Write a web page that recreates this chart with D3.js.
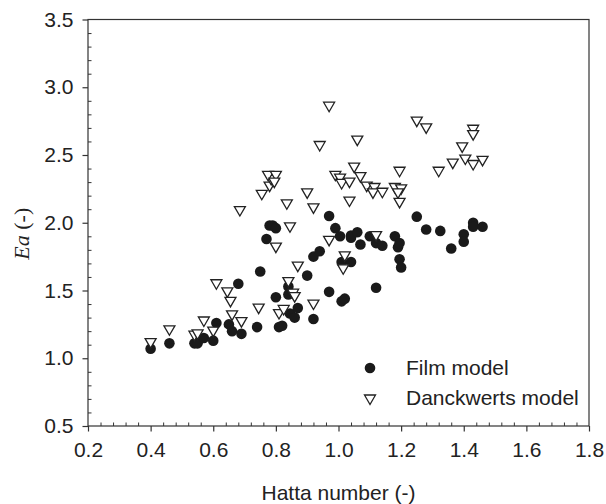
<!DOCTYPE html>
<html>
<head>
<meta charset="utf-8">
<script src="https://cdn.jsdelivr.net/npm/d3@7"></script>
<style>
  html, body { margin: 0; padding: 0; background: #fff; }
  svg { display: block; }
  text { font-family: "Liberation Sans", Arial, sans-serif; fill: #222; }
</style>
</head>
<body>
<svg id="chart" width="606" height="504"></svg>
<script>
// ---- data ----
const filmX = [0.40,0.46,0.54,0.55,0.57,0.60,0.61,0.65,0.66,0.69,0.68,0.74,0.75,0.77,0.78,0.79,0.80,0.80,0.81,0.82,
  0.84,0.84,0.845,0.86,0.87,0.90,0.92,0.92,0.94,0.97,0.97,0.99,1.005,1.01,1.02,1.01,1.04,1.04,1.04,1.06,
  1.07,1.10,1.12,1.12,1.14,1.18,1.19,1.195,1.195,1.20,1.25,1.28,1.325,1.36,1.40,1.40,1.43,1.43,1.46];
const filmY = [1.07,1.11,1.11,1.11,1.15,1.13,1.26,1.25,1.20,1.18,1.55,1.23,1.64,1.88,1.98,1.98,1.96,1.45,1.23,1.24,
  1.53,1.47,1.33,1.30,1.37,1.61,1.29,1.75,1.79,1.49,2.05,1.96,1.90,1.42,1.44,1.71,1.71,1.89,1.905,1.93,
  1.84,1.90,1.85,1.52,1.83,1.90,1.82,1.85,1.73,1.67,2.045,1.95,1.94,1.81,1.915,1.86,2.00,1.97,1.97];

const danckX = [0.40,0.46,0.54,0.55,0.57,0.60,0.61,0.645,0.655,0.66,0.69,0.685,0.745,0.755,0.78,0.785,0.775,0.80,0.795,0.80,
  0.81,0.825,0.84,0.855,0.86,0.87,0.835,0.845,0.90,0.92,0.92,0.94,0.97,0.97,0.99,1.005,1.01,1.035,1.035,1.05,
  1.06,1.07,1.02,1.015,1.09,1.115,1.11,1.14,1.12,1.18,1.20,1.19,1.195,1.195,1.25,1.28,1.32,1.365,1.395,1.405,
  1.43,1.43,1.43,1.46];
const danckY = [1.115,1.21,1.17,1.18,1.275,1.20,1.55,1.49,1.42,1.32,1.27,2.09,1.37,2.21,2.27,2.32,2.35,2.35,2.30,1.82,
  1.33,1.36,1.565,1.48,1.455,1.68,2.14,1.97,2.22,2.11,1.40,2.57,2.86,1.87,2.35,2.33,2.29,2.30,2.16,2.41,
  2.61,2.34,1.755,1.66,2.27,2.26,2.22,2.225,1.905,2.26,2.25,2.22,2.15,2.38,2.75,2.70,2.38,2.44,2.56,2.47,
  2.43,2.69,2.65,2.46];

const xTicks = [0.2,0.4,0.6,0.8,1.0,1.2,1.4,1.6,1.8];
const yTicks = [0.5,1.0,1.5,2.0,2.5,3.0,3.5];
const xLabel = "Hatta number (-)";
const yLabelItalic = "Ea";
const yLabelRest = " (-)";
const legendNames = ["Film model", "Danckwerts model"];

// ---- layout ----
const svg = d3.select("#chart");
const L = 88, R = 589, T = 19.5, B = 426;
const x = d3.scaleLinear().domain([0.2, 1.8]).range([L, R]);
const y = d3.scaleLinear().domain([0.5, 3.5]).range([B, T]);
const axisColor = "#333";
const fontSize = 21;

// frame
svg.append("rect").attr("x", L).attr("y", T).attr("width", R - L).attr("height", B - T)
  .attr("fill", "none").attr("stroke", axisColor).attr("stroke-width", 1.2);

// minor ticks (inward)
const xMinor = d3.range(0.2, 1.8001, 0.04).filter(v => Math.abs(v * 5 - Math.round(v * 5)) > 1e-6);
const yMinor = d3.range(0.5, 3.5001, 0.1).filter(v => Math.abs(v * 2 - Math.round(v * 2)) > 1e-6);

const gxm = svg.append("g").attr("transform", `translate(0,${B})`)
  .call(d3.axisBottom(x).tickValues(xMinor).tickSizeInner(-3.5).tickSizeOuter(0).tickFormat(""));
const gym = svg.append("g").attr("transform", `translate(${L},0)`)
  .call(d3.axisLeft(y).tickValues(yMinor).tickSizeInner(-3.5).tickSizeOuter(0).tickFormat(""));
[gxm, gym].forEach(g => { g.select(".domain").remove(); g.selectAll("line").attr("stroke", axisColor).attr("stroke-width", 1); });

// major ticks (outward) with labels
const gx = svg.append("g").attr("transform", `translate(0,${B})`)
  .call(d3.axisBottom(x).tickValues(xTicks).tickSizeInner(5.5).tickSizeOuter(0).tickPadding(11).tickFormat(d3.format(".1f")));
const gy = svg.append("g").attr("transform", `translate(${L},0)`)
  .call(d3.axisLeft(y).tickValues(yTicks).tickSizeInner(5.5).tickSizeOuter(0).tickPadding(9).tickFormat(d3.format(".1f")));
[gx, gy].forEach(g => {
  g.select(".domain").remove();
  g.selectAll("line").attr("stroke", axisColor).attr("stroke-width", 1.2);
  g.selectAll("text").attr("font-size", fontSize).attr("font-family", "Liberation Sans, Arial, sans-serif").attr("fill", "#222");
});

// axis titles
svg.append("text").attr("x", (L + R) / 2).attr("y", 500).attr("text-anchor", "middle")
  .attr("font-size", fontSize).text(xLabel);
const yt = svg.append("text").attr("transform", `translate(29,${(T + B) / 2 + 11}) rotate(-90)`)
  .attr("text-anchor", "middle").attr("font-size", 22)
  .style("font-family", "'Liberation Serif', 'Times New Roman', serif");
yt.append("tspan").attr("font-style", "italic").text(yLabelItalic);
yt.append("tspan").text(yLabelRest);

// marks
const triPath = "M-5.5,-4 L5.5,-4 L0,5.5 Z";
svg.append("g").selectAll("circle").data(d3.range(filmX.length)).join("circle")
  .attr("cx", i => x(filmX[i])).attr("cy", i => y(filmY[i])).attr("r", 5.3).attr("fill", "#1a1a1a");
svg.append("g").selectAll("path").data(d3.range(danckX.length)).join("path")
  .attr("transform", i => `translate(${x(danckX[i])},${y(danckY[i])})`)
  .attr("d", triPath).attr("fill", "#fff").attr("stroke", "#222").attr("stroke-width", 1.3);

// legend
const lg = svg.append("g");
lg.append("circle").attr("cx", 370).attr("cy", 368).attr("r", 5.3).attr("fill", "#1a1a1a");
lg.append("path").attr("transform", "translate(370,399)").attr("d", triPath)
  .attr("fill", "#fff").attr("stroke", "#222").attr("stroke-width", 1.3);
lg.append("text").attr("x", 406).attr("y", 368).attr("dy", "0.35em").attr("font-size", fontSize).text(legendNames[0]);
lg.append("text").attr("x", 406).attr("y", 398).attr("dy", "0.35em").attr("font-size", fontSize).text(legendNames[1]);
</script>
</body>
</html>
